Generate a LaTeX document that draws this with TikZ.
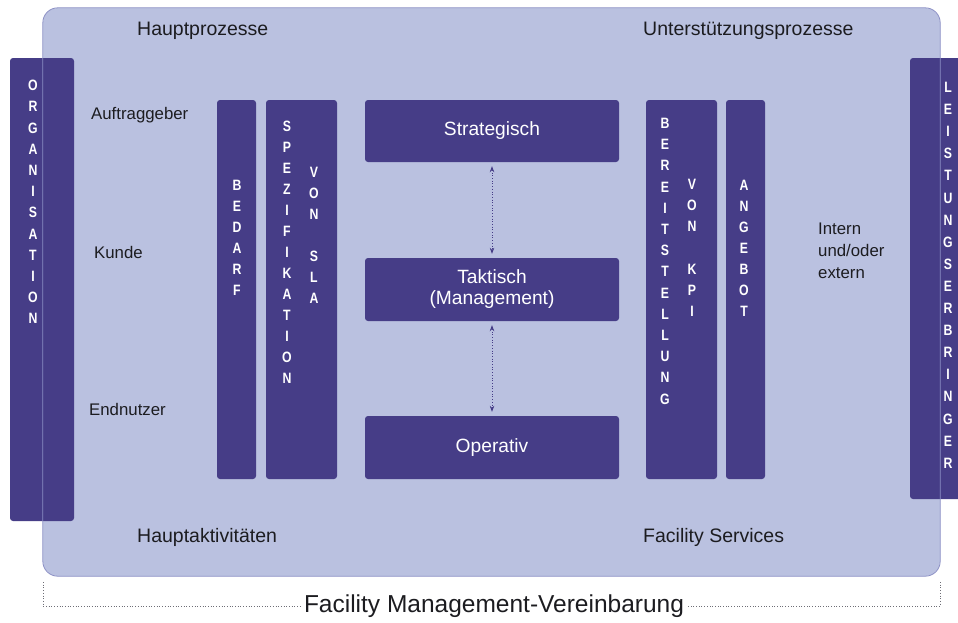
\documentclass[tikz,border=0pt]{standalone}
\usepackage{fontspec}
\setmainfont{Liberation Sans}
\newfontfamily\narrowfont{Liberation Sans}[FakeStretch=0.82]
\usetikzlibrary{arrows.meta}
\definecolor{bg}{RGB}{186,193,224}
\definecolor{pur}{RGB}{70,61,135}
\definecolor{edge}{RGB}{138,142,196}
\definecolor{txt}{RGB}{28,28,32}
\definecolor{dotc}{RGB}{110,110,118}
\begin{document}
\begin{tikzpicture}[x=1pt,y=-1pt,
  barbox/.style={fill=pur, rounded corners=3pt, inner sep=0pt},
  levelbox/.style={fill=pur, rounded corners=3pt, inner sep=0pt,
    minimum width=254pt, text=white, align=center,
    font=\fontsize{19.2}{21}\selectfont},
  vlet/.style={text=white, align=center, inner sep=0pt, anchor=north,
    font=\narrowfont\bfseries\fontsize{15}{21}\selectfont},
  lbl/.style={text=txt, inner sep=0pt, anchor=west,
    font=\fontsize{16.8}{22}\selectfont},
  head/.style={text=txt, inner sep=0pt, anchor=west,
    font=\fontsize{19.5}{22}\selectfont},
  dotarrow/.style={pur, dotted, line width=0.7pt,
    {Stealth[length=6pt,width=4.5pt]}-{Stealth[length=6pt,width=4.5pt]},
    shorten <=4pt, shorten >=4pt},
  bracket/.style={dotc, dotted, line width=0.7pt}
]
\useasboundingbox (0,0) rectangle (958,622);
\fill[white] (0,0) rectangle (958,622);

% main background
\node (main) [fill=bg, rounded corners=15pt, inner sep=0pt,
  minimum width=897pt, minimum height=568pt] at (491.5,292) {};

% side bars
\node (orgbar) [barbox, minimum width=64pt, minimum height=463pt] at (42,289.5) {};
\node (leisbar) [barbox, minimum width=56pt, minimum height=441pt] at (938,278.5) {};

% main border on top
\draw[edge, line width=0.8pt, rounded corners=15pt] (main.north west) rectangle (main.south east);

% columns
\node (bedarf) [barbox, minimum width=39pt, minimum height=379pt] at (236.5,289.5) {};
\node (spez) [barbox, minimum width=71pt, minimum height=379pt] at (301.5,289.5) {};
\node (bereit) [barbox, minimum width=71pt, minimum height=379pt] at (681.5,289.5) {};
\node (angebot) [barbox, minimum width=39pt, minimum height=379pt] at (745.5,289.5) {};

% levels
\node (strat) [levelbox, minimum height=62pt] at (492,131) {Strategisch};
\node (takt) [levelbox, minimum height=63pt] at (492,289.5) {Taktisch\\(Management)};
\node (oper) [levelbox, minimum height=63pt] at (492,447.5) {Operativ};

\draw[dotarrow] (strat.south) -- (takt.north);
\draw[dotarrow] (takt.south) -- (oper.north);

% vertical letters
\node (torg) [vlet, font=\narrowfont\bfseries\fontsize{15}{21.2}\selectfont] at (33,80)
  {O\\R\\G\\A\\N\\I\\S\\A\\T\\I\\O\\N};
\node (tleis) [vlet, font=\narrowfont\bfseries\fontsize{15}{22.1}\selectfont] at (948,82)
  {L\\E\\I\\S\\T\\U\\N\\G\\S\\E\\R\\B\\R\\I\\N\\G\\E\\R};
\node (tbed) [vlet] at (237,180) {B\\E\\D\\A\\R\\F};
\node (tspez) [vlet] at (287,121) {S\\P\\E\\Z\\I\\F\\I\\K\\A\\T\\I\\O\\N};
\node (tsla) [vlet] at (314,167) {V\\O\\N\\[21pt]S\\L\\A};
\node (tber) [vlet, font=\narrowfont\bfseries\fontsize{15}{21.2}\selectfont] at (665,118)
  {B\\E\\R\\E\\I\\T\\S\\T\\E\\L\\L\\U\\N\\G};
\node (tkpi) [vlet, font=\narrowfont\bfseries\fontsize{15}{21.2}\selectfont] at (692,179)
  {V\\O\\N\\[21.2pt]K\\P\\I};
\node (tang) [vlet] at (744,180) {A\\N\\G\\E\\B\\O\\T};

% labels
\node (hp) [head] at (137,31) {Hauptprozesse};
\node (up) [head] at (643,31) {Unterstützungsprozesse};
\node (ha) [head] at (137,537) {Hauptaktivitäten};
\node (fs) [head] at (643,537) {Facility Services};
\node (auf) [lbl] at (91,115) {Auftraggeber};
\node (kun) [lbl] at (94,252) {Kunde};
\node (end) [lbl] at (89,409) {Endnutzer};
\node (ext) [lbl, align=left] at (818,251) {Intern\\und/oder\\extern};

% bottom bracket
\node (fmv) [text=txt, inner sep=4pt, font=\fontsize{24.5}{28}\selectfont] at (494,606) {Facility Management-Vereinbarung};
\coordinate (bl) at (43,582);
\coordinate (br) at (940,582);
\draw[bracket] (bl) |- (fmv.west);
\draw[bracket] (br) |- (fmv.east);
\end{tikzpicture}
\end{document}
